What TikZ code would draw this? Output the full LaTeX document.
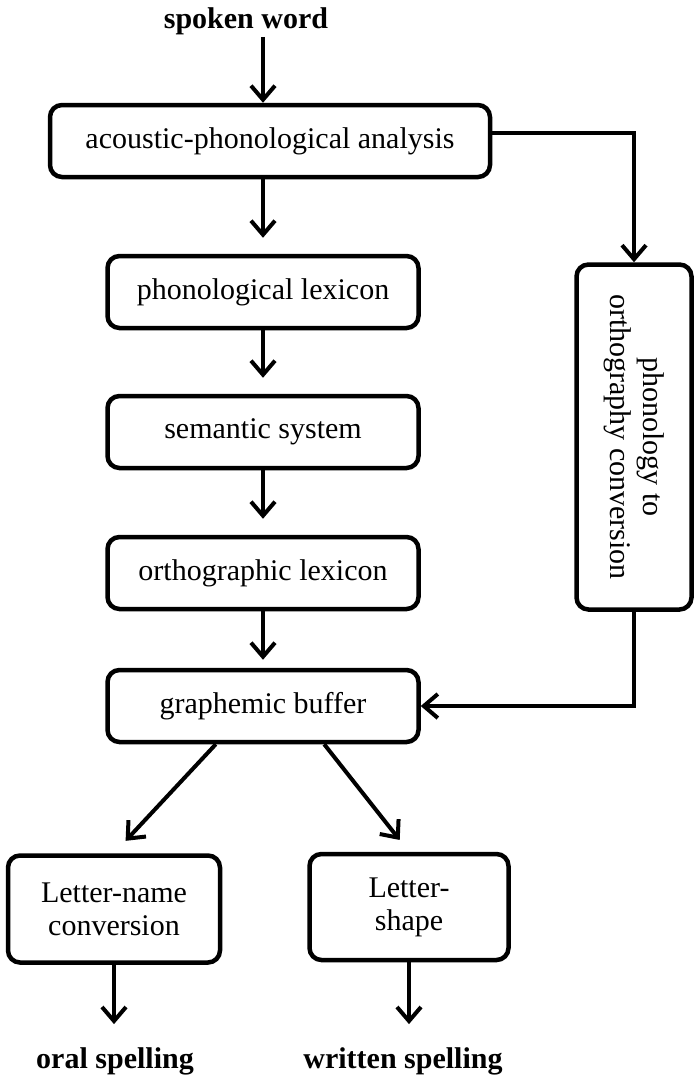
\documentclass[tikz,border=0pt]{standalone}
\usepackage{fontspec}
\setmainfont{Liberation Serif}
\usetikzlibrary{arrows.meta}

\begin{document}
\begin{tikzpicture}[x=1pt,y=1pt,yscale=-1,xscale=1]
\tikzset{
  stage/.style={draw, line width=4.5pt, rounded corners=12pt, align=center, inner sep=0pt, font=\fontsize{30}{33}\selectfont},
  endtext/.style={inner sep=2pt, font=\bfseries\fontsize{30}{33}\selectfont},
  flow/.style={line width=4pt, -{Straight Barb[length=14pt,width=24pt,line width=4pt]}}
}
\useasboundingbox (0,0) rectangle (694,1077);

% Text Node
\node [endtext] (spoken) at (246,21) {spoken word};
% Text Node
\node [endtext] (oral) at (115,1061) {oral spelling};
% Text Node
\node [endtext] (written) at (403,1061) {written spelling};

%Shape: Rounded Rect
\node [stage, minimum width=440pt, minimum height=72pt] (acoustic) at (270,141) {acoustic-phonological analysis};
%Shape: Rounded Rect
\node [stage, minimum width=311pt, minimum height=72pt] (phonlex) at (263,292) {phonological lexicon};
%Shape: Rounded Rect
\node [stage, minimum width=311pt, minimum height=72pt] (semsys) at (263,432) {semantic system};
%Shape: Rounded Rect
\node [stage, minimum width=311pt, minimum height=72pt] (ortholex) at (263,573) {orthographic lexicon};
%Shape: Rounded Rect
\node [stage, minimum width=311pt, minimum height=72pt] (graphbuf) at (263,706) {graphemic buffer};
%Shape: Rounded Rect
\node [stage, rotate=-90, minimum width=345pt, minimum height=115pt] (ptoo) at (634,437) {phonology to\\orthography conversion};
%Shape: Rounded Rect
\node [stage, minimum width=212pt, minimum height=107pt] (lettername) at (114,909) {Letter-name\\conversion};
%Shape: Rounded Rect
\node [stage, minimum width=199pt, minimum height=106pt] (lettershape) at (409,907) {Letter-\\shape};

%Straight Lines
\draw [flow] (spoken.south -| phonlex.north) -- (acoustic.north -| phonlex.north);
\draw [flow, shorten >=16pt] (acoustic.south -| phonlex.north) -- (phonlex.north);
\draw [flow, shorten >=16pt] (phonlex.south) -- (semsys.north);
\draw [flow, shorten >=16pt] (semsys.south) -- (ortholex.north);
\draw [flow, shorten >=8pt] (ortholex.south) -- (graphbuf.north);
\draw [flow] (acoustic.2) -| (ptoo.west);
\draw [flow] (ptoo.east) |- (graphbuf.east);
\draw [flow, shorten >=17pt] (graphbuf.219) -- (lettername.north);
\draw [flow, shorten >=15pt] (graphbuf.328) -- (lettershape.north);
\draw [flow, shorten >=21pt] (lettername.south) -- (lettername.south |- oral.north);
\draw [flow, shorten >=21pt] (lettershape.south) -- (lettershape.south |- written.north);

\end{tikzpicture}
\end{document}
